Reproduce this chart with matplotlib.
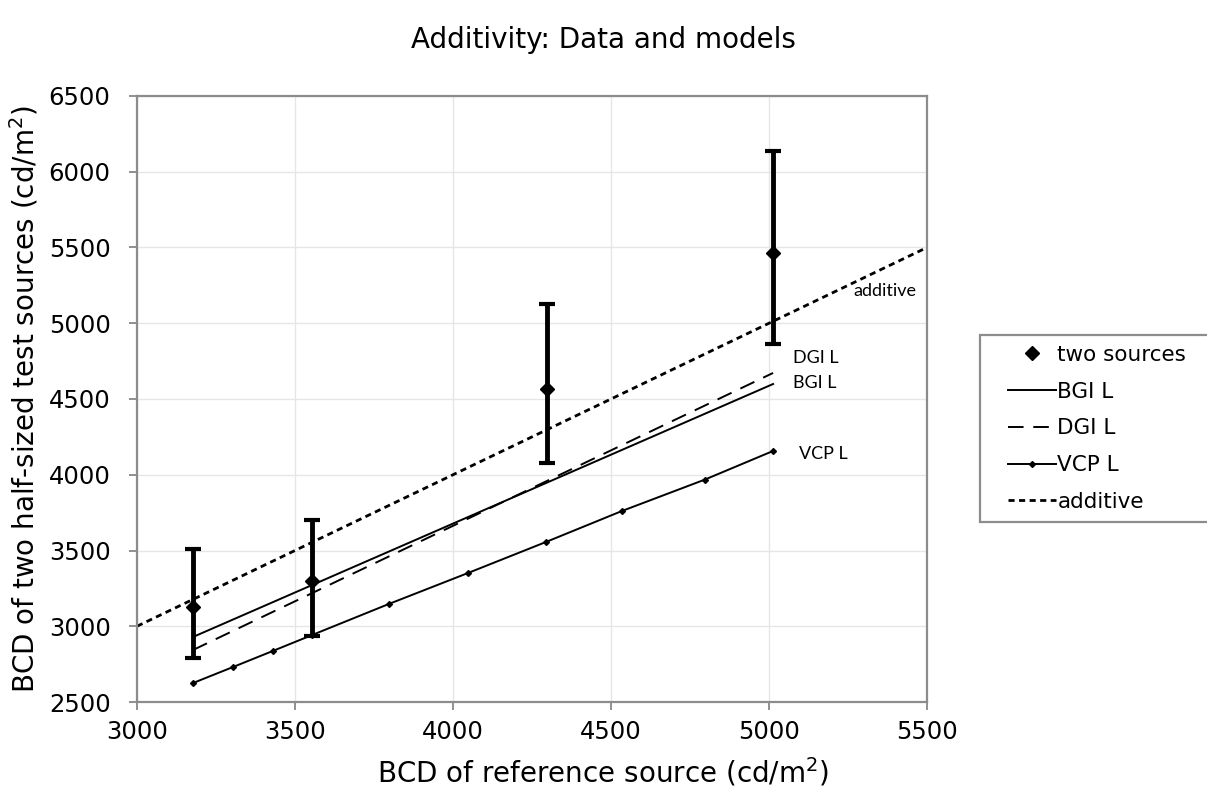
import numpy as np
import matplotlib
matplotlib.use("Agg")
import matplotlib.pyplot as plt
from matplotlib.patches import Rectangle

plt.rcParams['font.family'] = ['DejaVu Sans']

# measured pairs: reference source vs. two half-sized sources
src_x = [3177, 3554, 4297, 5013]
src_y = [3127, 3299, 4566, 5464]
src_err_lo = [337, 363, 488, 601]
src_err_hi = [383, 402, 561, 673]

# model predictions
bgi_x = [3177, 5013]
bgi_y = [2929, 4599]
dgi_x = [3177, 5013]
dgi_y = [2843, 4672]
vcp_x = [3177, 3304, 3430, 3554, 3797, 4047, 4294, 4535, 4797, 5013]
vcp_y = [2625, 2731, 2837, 2942, 3147, 3351, 3556, 3761, 3968, 4157]
add_x = [3000, 5500]
add_y = [3000, 5500]

xticks = [3000, 3500, 4000, 4500, 5000, 5500]
yticks = [2500, 3000, 3500, 4000, 4500, 5000, 5500, 6000, 6500]

fig = plt.figure(figsize=(12.07, 7.98), dpi=100)
ax = fig.add_axes([0.1135, 0.1203, 0.6545, 0.7594])

ax.grid(True, color="#e6e6e6", linewidth=1)
ax.set_axisbelow(True)

ax.plot(add_x, add_y, color="black", linewidth=2, linestyle=(0, (2.2, 1.6)), label="additive", zorder=2)
ax.plot(bgi_x, bgi_y, color="black", linewidth=1.4, label="BGI L", zorder=2)
ax.plot(dgi_x, dgi_y, color="black", linewidth=1.4, linestyle=(0, (8, 5)), label="DGI L", zorder=2)
ax.plot(vcp_x, vcp_y, color="black", linewidth=1.4, marker="D", markersize=3, label="VCP L", zorder=2)

ax.errorbar(src_x, src_y, yerr=[src_err_lo, src_err_hi], fmt="D", color="black",
            markersize=7.5, elinewidth=3.5, capsize=6, capthick=3, label="two sources", zorder=3)

ax.set_xlim(3000, 5500)
ax.set_ylim(2500, 6500)
ax.set_xticks(xticks)
ax.set_yticks(yticks)
ax.tick_params(axis="both", labelsize=17.5, direction="out", length=6, color="#888888", width=1.3)
ax.tick_params(axis="x", pad=7)
ax.tick_params(axis="y", pad=13)
for s in ax.spines.values():
    s.set_color("#8c8c8c")
    s.set_linewidth(1.6)

ax.set_xlabel("BCD of reference source (cd/m$^2$)", fontsize=20)
ax.xaxis.set_label_coords(0.59, -0.088)
ax.set_ylabel("BCD of two half-sized test sources (cd/m$^2$)", fontsize=20, labelpad=6)
fig.suptitle("Additivity: Data and models", fontsize=20, x=0.5, y=0.968)

# line labels
lab_font = ['Lato', 'DejaVu Sans']
ax.text(5266, 5213, "additive", fontsize=13, family=lab_font, va="center")
ax.text(5076, 4771, "DGI L", fontsize=13, family=lab_font, va="center")
ax.text(5076, 4606, "BGI L", fontsize=13, family=lab_font, va="center")
ax.text(5095, 4137, "VCP L", fontsize=13, family=lab_font, va="center")

h, l = ax.get_legend_handles_labels()
order = ["two sources", "BGI L", "DGI L", "VCP L", "additive"]
handles = []
for name in order:
    hh = h[l.index(name)]
    if name == "two sources":
        hh = plt.Line2D([], [], marker="D", color="black", linestyle="none", markersize=7)
    handles.append(hh)

# legend box drawn separately so the padding can differ per side
fig.patches.append(Rectangle((0.812, 0.346), 0.25, 0.234, transform=fig.transFigure,
                             facecolor="white", edgecolor="#8c8c8c", linewidth=1.6, zorder=0))
leg = fig.legend(handles, order, loc="upper left", bbox_to_anchor=(0.835, 0.568),
                 fontsize=15.5, frameon=False, handlelength=2.25,
                 handletextpad=0.05, borderpad=0, labelspacing=0.78, borderaxespad=0)

fig.savefig("out.png", dpi=100)
